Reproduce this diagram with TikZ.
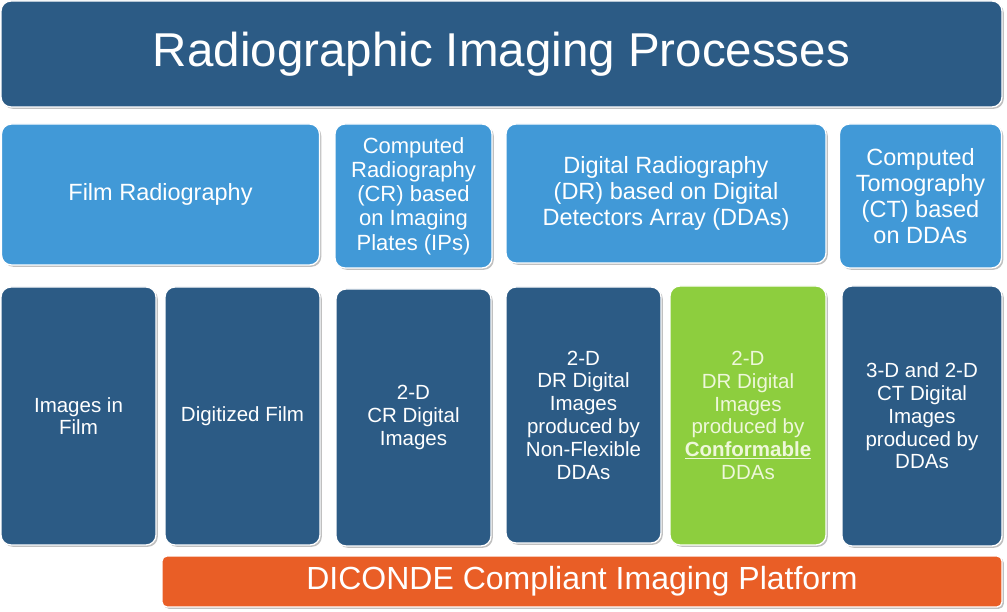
\documentclass[tikz,border=0pt]{standalone}
\usepackage{fontspec}
\setmainfont{Liberation Sans}
\usetikzlibrary{shadows}

\definecolor{procblue}{RGB}{44,91,133}
\definecolor{techblue}{RGB}{65,153,215}
\definecolor{confgreen}{RGB}{141,206,62}
\definecolor{platorange}{RGB}{233,94,38}
\definecolor{palegreen}{RGB}{238,247,218}

\begin{document}
\begin{tikzpicture}[x=1pt, y=-1pt,
  panel/.style={draw=white, line width=1.3pt, rounded corners=10pt, text=white, align=center, inner sep=0pt,
    drop shadow={shadow xshift=1.8pt, shadow yshift=-1.8pt, fill=black!45, opacity=.55}},
  head/.style={panel, fill=procblue, font=\fontsize{47.5}{52}\selectfont},
  tech/.style={panel, fill=techblue, font=\fontsize{23.5}{26}\selectfont},
  imgbox/.style={panel, fill=procblue, font=\fontsize{20.5}{22.8}\selectfont},
  platbar/.style={panel, rounded corners=5pt, fill=platorange, font=\fontsize{32}{36}\selectfont}]

\useasboundingbox (0,0) rectangle (1007,612);

\node [head, minimum width=1001pt, minimum height=106pt] (title) at (501.5,54) {Radiographic Imaging Processes};

\node [tech, minimum width=318pt, minimum height=141pt] (film) at (160.5,194.5) {Film Radiography};
\node [tech, minimum width=157pt, minimum height=144pt, font=\fontsize{22}{24.3}\selectfont] (cr) at (413.5,196) {Computed\\Radiography\\(CR) based\\on Imaging\\Plates (IPs)};
\node [tech, minimum width=320pt, minimum height=139pt] (dr) at (666,193.5) {Digital Radiography\\(DR) based on Digital\\Detectors Array (DDAs)};
\node [tech, minimum width=162pt, minimum height=144pt] (ct) at (920.5,196) {Computed\\Tomography\\(CT) based\\on DDAs};

\node [imgbox, minimum width=155pt, minimum height=258pt] (imfilm) at (78.5,416) {Images in\\Film};
\node [imgbox, minimum width=155pt, minimum height=258pt] (digfilm) at (242.5,416) {Digitized Film};
\node [imgbox, minimum width=155pt, minimum height=257pt] (crimg) at (413.5,417.5) {2-D\\CR Digital\\Images};
\node [imgbox, minimum width=155pt, minimum height=256pt] (drimg) at (583.5,415) {2-D\\DR Digital\\Images\\produced by\\Non-Flexible\\DDAs};
\node [imgbox, fill=confgreen, text=palegreen, minimum width=156pt, minimum height=259pt] (confimg) at (748,415.5) {2-D\\DR Digital\\Images\\produced by\\\underline{\textbf{Conformable}}\\DDAs};
\node [imgbox, minimum width=160pt, minimum height=260pt] (ctimg) at (922,416) {3-D and 2-D\\CT Digital\\Images\\produced by\\DDAs};

\node [platbar, minimum width=840pt, minimum height=51pt] (dicon) at (582,581.5) {DICONDE Compliant Imaging Platform};

\end{tikzpicture}
\end{document}
